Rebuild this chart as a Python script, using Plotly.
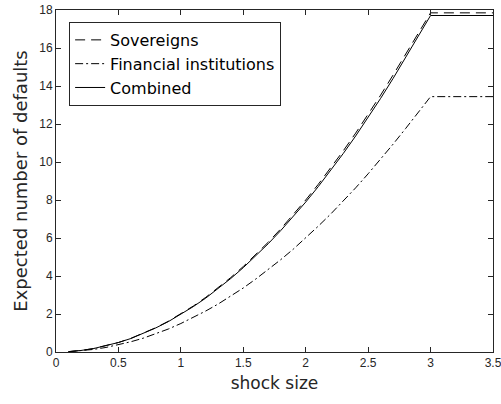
import plotly.graph_objects as go

shock = [0.1, 0.2, 0.3, 0.4, 0.5, 0.6, 0.7, 0.8, 0.9, 1.0,
         1.1, 1.2, 1.3, 1.4, 1.5, 1.6, 1.7, 1.8, 1.9, 2.0,
         2.1, 2.2, 2.3, 2.4, 2.5, 2.6, 2.7, 2.8, 2.9, 3.0, 3.5]

sovereigns = [0.02, 0.08, 0.18, 0.32, 0.50, 0.72, 0.98, 1.28, 1.62, 2.00,
              2.42, 2.88, 3.38, 3.92, 4.50, 5.12, 5.78, 6.48, 7.22, 8.00,
              8.82, 9.68, 10.58, 11.52, 12.50, 13.52, 14.58, 15.68, 16.82, 17.85, 17.85]

financial = [0.015, 0.06, 0.135, 0.24, 0.37, 0.54, 0.73, 0.96, 1.21, 1.50,
             1.81, 2.16, 2.53, 2.94, 3.37, 3.84, 4.33, 4.86, 5.41, 6.00,
             6.62, 7.26, 7.94, 8.64, 9.38, 10.14, 10.94, 11.76, 12.62, 13.44, 13.44]

combined = [0.02, 0.08, 0.18, 0.32, 0.50, 0.71, 0.97, 1.27, 1.60, 1.98,
            2.39, 2.84, 3.34, 3.87, 4.44, 5.05, 5.70, 6.39, 7.12, 7.89,
            8.70, 9.55, 10.44, 11.37, 12.34, 13.35, 14.40, 15.49, 16.62, 17.71, 17.71]

x_ticks = [0, 0.5, 1, 1.5, 2, 2.5, 3, 3.5]
x_tick_labels = ["0", "0.5", "1", "1.5", "2", "2.5", "3", "3.5"]
y_ticks = [0, 2, 4, 6, 8, 10, 12, 14, 16, 18]

axis_color = "#262626"
tick_font = "Liberation Sans, Arial, sans-serif"
text_font = "DejaVu Sans, sans-serif"

fig = go.Figure()
fig.add_trace(go.Scatter(x=shock, y=sovereigns, mode="lines", name="Sovereigns",
                         line=dict(color="black", width=1, dash="10px,6px")))
fig.add_trace(go.Scatter(x=shock, y=financial, mode="lines", name="Financial institutions",
                         line=dict(color="black", width=1, dash="8px,3px,2px,3px")))
fig.add_trace(go.Scatter(x=shock, y=combined, mode="lines", name="Combined",
                         line=dict(color="black", width=1)))

axis_common = dict(showgrid=False, zeroline=False, showline=True, linecolor=axis_color,
                   linewidth=1, mirror="allticks", ticks="inside", ticklen=5,
                   tickcolor=axis_color, automargin=False, ticklabeloverflow="allow",
                   tickfont=dict(size=12, color=axis_color, family=tick_font))

fig.update_xaxes(range=[0, 3.5], tickvals=x_ticks, ticktext=x_tick_labels,
                 title=dict(text="shock size", font=dict(size=17, color=axis_color, family=text_font),
                            standoff=7),
                 **axis_common)
fig.update_yaxes(range=[0, 18], tickvals=y_ticks,
                 title=dict(text="Expected number of defaults",
                            font=dict(size=18, color=axis_color, family=text_font), standoff=6),
                 **axis_common)

fig.update_layout(
    width=501, height=404,
    margin=dict(l=56, r=8, t=10, b=52),
    plot_bgcolor="white", paper_bgcolor="white",
    font=dict(family=tick_font, color=axis_color),
    legend=dict(x=0.03, y=0.965, xanchor="left", yanchor="top",
                bgcolor="white", bordercolor=axis_color, borderwidth=1,
                itemwidth=30,
                font=dict(size=16, color="black", family=text_font),
                tracegroupgap=0),
    showlegend=True,
)

# remove the browser's default 8px body margin so the figure fills the window
fig.write_html("out.html",
               config={"displayModeBar": False},
               post_script="document.body.style.margin='0';document.body.style.overflow='hidden';")
